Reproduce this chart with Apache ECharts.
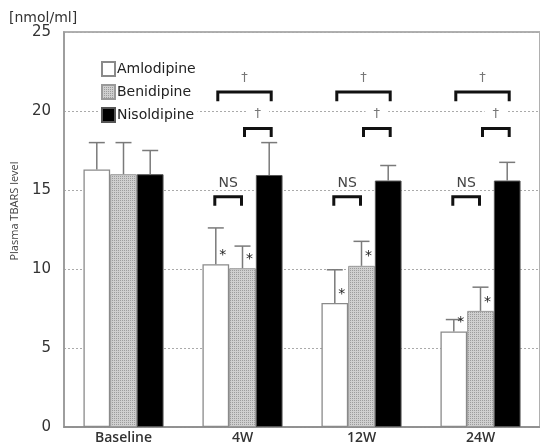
<!DOCTYPE html>
<html>
<head>
<meta charset="utf-8">
<script src="https://cdn.jsdelivr.net/npm/echarts@6/dist/echarts.min.js"></script>
<style>
html,body{margin:0;padding:0;background:#fff;}
#chart{width:540px;height:445px;}
</style>
</head>
<body>
<div id="chart"></div>
<script>
// ---- data ----
const categories = ['Baseline', '4W', '12W', '24W'];
const seriesNames = ['Amlodipine', 'Benidipine', 'Nisoldipine'];
const amlodipine = [16.3, 10.3, 7.85, 6.05];
const amlodipineErr = [1.7, 2.3, 2.1, 0.75];
const benidipine = [16.0, 10.05, 10.2, 7.35];
const benidipineErr = [2.0, 1.4, 1.55, 1.5];
const nisoldipine = [16.0, 15.95, 15.6, 15.6];
const nisoldipineErr = [1.5, 2.05, 0.95, 1.15];
const amlodipineStar = [0, 1, 1, 1];
const benidipineStar = [0, 1, 1, 1];
const nisoldipineStar = [0, 0, 0, 0];
const sigCategories = ['4W', '12W', '24W'];
const yTicks = [0, 5, 10, 15, 20, 25];

// ---- rendering ----
const chart = echarts.init(document.getElementById('chart'), null, {renderer: 'canvas'});
const BW = 26.7;
const offsets = [-BW, 0, BW];

// dotted grey pattern for Benidipine
const pc = document.createElement('canvas');
pc.width = 2; pc.height = 2;
const pctx = pc.getContext('2d');
pctx.fillStyle = '#cfcfcf'; pctx.fillRect(0, 0, 2, 2);
pctx.fillStyle = '#9c9c9c'; pctx.fillRect(0, 0, 1, 1);
const benPattern = {image: pc, repeat: 'repeat'};

const means = [amlodipine, benidipine, nisoldipine];
const errs = [amlodipineErr, benidipineErr, nisoldipineErr];
const stars = [amlodipineStar, benidipineStar, nisoldipineStar];
const styles = [
  {color: '#ffffff', borderColor: '#8a8a8a', borderWidth: 1.3},
  {color: benPattern, borderColor: '#9a9a9a', borderWidth: 1},
  {color: '#000000', borderColor: '#555', borderWidth: 1}
];

const barSeries = seriesNames.map((n, k) => ({
  name: n,
  type: 'bar',
  data: means[k],
  barWidth: BW,
  barGap: '0%',
  itemStyle: styles[k],
  emphasis: {disabled: true},
  z: 2
}));

const errSeries = seriesNames.map((n, k) => ({
  name: n + ' err',
  type: 'custom',
  z: 5,
  silent: true,
  data: categories.map((c, i) => [i, means[k][i], errs[k][i], stars[k][i]]),
  encode: {x: 0, y: 1},
  renderItem: function (params, api) {
    const i = api.value(0), v = api.value(1), e = api.value(2), s = api.value(3);
    const base = api.coord([i, v]);
    const top = api.coord([i, v + e]);
    const x = base[0] + offsets[k];
    const ls = {stroke: '#7a7a7a', lineWidth: 1.5};
    const ch = [
      {type: 'line', shape: {x1: x, y1: base[1], x2: x, y2: top[1]}, style: ls},
      {type: 'line', shape: {x1: x - 8, y1: top[1], x2: x + 8, y2: top[1]}, style: ls}
    ];
    if (s) {
      ch.push({type: 'text', x: x + 7, y: base[1] - 9,
        style: {text: '*', fill: '#222', font: '14px "DejaVu Sans"', align: 'center', verticalAlign: 'middle'}});
    }
    return {type: 'group', children: ch};
  }
}));

function bracket(x1, x2, yTop, yLeg) {
  return {type: 'polyline', shape: {points: [[x1, yLeg], [x1, yTop], [x2, yTop], [x2, yLeg]]},
    style: {stroke: '#111', lineWidth: 3, fill: null}};
}

const sigSeries = {
  name: 'sig',
  type: 'custom',
  z: 6,
  silent: true,
  data: sigCategories.map(c => [categories.indexOf(c), 0]),
  encode: {x: 0, y: 1},
  renderItem: function (params, api) {
    const i = api.value(0);
    const cx = api.coord([i, 0])[0];
    const y = v => api.coord([i, v])[1];
    const xa = cx - BW, xb = cx, xn = cx + BW;
    const ch = [];
    ch.push(bracket(xa - 1, xb - 1, y(14.58), y(14.0)));
    ch.push({type: 'text', x: (xa + xb) / 2 - 1, y: y(15.4),
      style: {text: 'NS', fill: '#444', font: '14px "DejaVu Sans"', align: 'center', verticalAlign: 'middle'}});
    ch.push(bracket(xa + 2, xn + 2, y(21.2), y(20.62)));
    ch.push({type: 'text', x: (xa + xn) / 2 + 2, y: y(22.1),
      style: {text: '†', fill: '#777', font: '13px "DejaVu Sans"', align: 'center', verticalAlign: 'middle',
        backgroundColor: '#fff', padding: [0, 3]}});
    ch.push(bracket(xb + 2, xn + 2, y(18.9), y(18.35)));
    ch.push({type: 'text', x: (xb + xn) / 2 + 2, y: y(19.85),
      style: {text: '†', fill: '#777', font: '13px "DejaVu Sans"', align: 'center', verticalAlign: 'middle',
        backgroundColor: '#fff', padding: [0, 8]}});
    return {type: 'group', children: ch};
  }
};

const option = {
  animation: false,
  backgroundColor: '#fff',
  grid: {left: 64, right: -2, top: 32, bottom: 17, show: true, borderColor: '#b0b0b0', borderWidth: 2, backgroundColor: 'transparent'},
  legend: {
    data: seriesNames,
    orient: 'vertical',
    left: 100, top: 60,
    itemWidth: 13, itemHeight: 14, itemGap: 7,
    padding: [1, 2, 1, 1],
    backgroundColor: '#fff',
    icon: 'rect',
    selectedMode: false,
    textStyle: {fontSize: 14, color: '#222', fontFamily: 'DejaVu Sans', padding: [0, 0, 0, -3]}
  },
  xAxis: {
    type: 'category',
    data: categories,
    axisLine: {show: true, lineStyle: {color: '#888', width: 1.5}},
    axisTick: {show: false},
    axisLabel: {margin: 4, fontSize: 14, fontWeight: 600, color: '#333', fontFamily: 'Open Sans'}
  },
  yAxis: {
    type: 'value',
    min: yTicks[0], max: yTicks[yTicks.length - 1], interval: yTicks[1] - yTicks[0],
    axisLine: {show: true, lineStyle: {color: '#999', width: 1.5}},
    axisTick: {show: false},
    axisLabel: {margin: 13, fontSize: 15, color: '#333', fontFamily: 'DejaVu Sans'},
    splitLine: {show: true, lineStyle: {color: '#aaa', type: [2, 2], width: 1}}
  },
  graphic: [
    {type: 'text', left: 9, top: 11, style: {text: '[nmol/ml]', font: '14px "DejaVu Sans"', fill: '#333'}},
    {type: 'text', x: 15, y: 211, rotation: Math.PI / 2,
      style: {text: 'Plasma TBARS level', font: '11px "Open Sans"', fill: '#444', align: 'center', verticalAlign: 'middle'}}
  ],
  series: [...barSeries, ...errSeries, sigSeries]
};
chart.setOption(option);
</script>
</body>
</html>
